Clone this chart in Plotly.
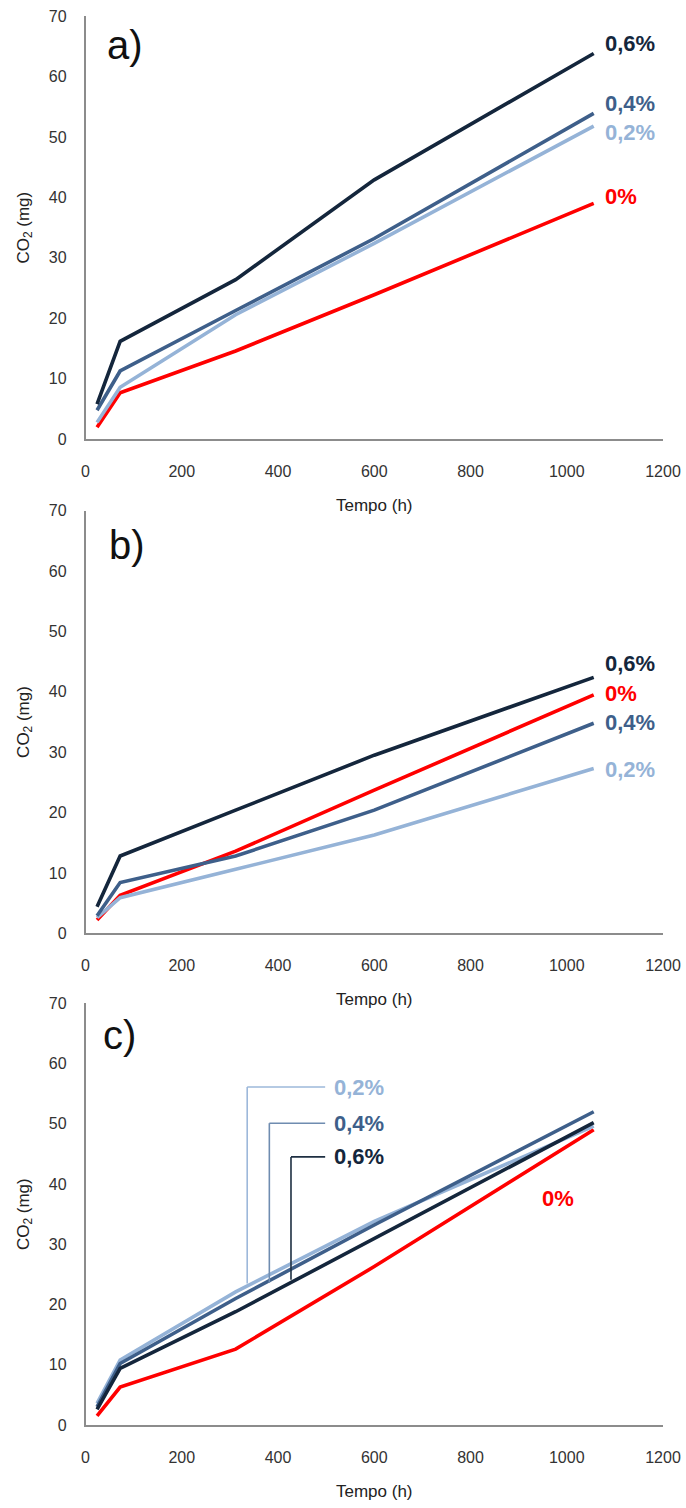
import plotly.graph_objects as go
from plotly.subplots import make_subplots

# ---------------- data ----------------
tempo_h = [24, 72, 312, 600, 1056]

# panel a)
a_0 = [2.0, 7.7, 14.6, 23.9, 39.0]
a_02 = [2.8, 8.6, 20.6, 32.4, 51.8]
a_04 = [4.8, 11.3, 21.3, 33.2, 53.9]
a_06 = [5.8, 16.2, 26.4, 42.9, 63.8]

# panel b)
b_0 = [2.2, 6.3, 13.6, 23.7, 39.5]
b_02 = [2.6, 5.9, 10.6, 16.3, 27.3]
b_04 = [2.9, 8.4, 12.8, 20.4, 34.8]
b_06 = [4.4, 12.8, 20.4, 29.5, 42.4]

# panel c)
c_0 = [1.5, 6.3, 12.6, 26.3, 49.0]
c_02 = [3.6, 10.8, 22.1, 33.8, 49.6]
c_04 = [3.0, 10.2, 21.0, 33.2, 52.0]
c_06 = [2.6, 9.4, 18.8, 31.0, 50.2]

series_names = ["0%", "0,2%", "0,4%", "0,6%"]
panel_names = ["a)", "b)", "c)"]
x_ticks = [0, 200, 400, 600, 800, 1000, 1200]
y_ticks = [0, 10, 20, 30, 40, 50, 60, 70]

# ---------------- style ----------------
colors = {"0%": "#FF0000", "0,2%": "#95B3D7", "0,4%": "#3E5F8A", "0,6%": "#14263C"}
leader_colors = {"0,2%": "#9DB8DA", "0,4%": "#6F8CB0", "0,6%": "#1E2F42"}
TICK_FONT = dict(family="Liberation Sans, Arial, sans-serif", size=16, color="#333333")
TITLE_FONT = dict(family="Liberation Sans, Arial, sans-serif", size=17, color="#222222")
LABEL_FAMILY = "Liberation Sans, Arial, sans-serif"
AXIS_COLOR = "#8C8C8C"

fig = make_subplots(rows=3, cols=1)

panels = [
    {"0%": a_0, "0,2%": a_02, "0,4%": a_04, "0,6%": a_06},
    {"0%": b_0, "0,2%": b_02, "0,4%": b_04, "0,6%": b_06},
    {"0%": c_0, "0,2%": c_02, "0,4%": c_04, "0,6%": c_06},
]
draw_order = ["0%", "0,2%", "0,4%", "0,6%"]

for i, p in enumerate(panels):
    for name in draw_order:
        fig.add_trace(
            go.Scatter(
                x=tempo_h, y=p[name], mode="lines", name=name,
                line=dict(color=colors[name], width=3.6),
                showlegend=False, hoverinfo="x+y+name",
            ),
            row=i + 1, col=1,
        )

# domains (paper fractions) for the three panels
x_dom = [85.5 / 686, 663 / 686]
y_doms = [
    [1 - 439.3 / 1508, 1 - 16 / 1508],
    [1 - 933.3 / 1508, 1 - 510.7 / 1508],
    [1 - 1425 / 1508, 1 - 1003.3 / 1508],
]

for i in range(3):
    fig.update_xaxes(
        row=i + 1, col=1, domain=x_dom, range=[0, 1200], tickvals=x_ticks,
        showgrid=False, zeroline=False, showline=True, linecolor=AXIS_COLOR,
        linewidth=1.5, ticks="", ticklabelstandoff=17, tickfont=TICK_FONT,
        title=dict(text="Tempo (h)", font=TITLE_FONT, standoff=20),
        automargin=False, fixedrange=True,
    )
    fig.update_yaxes(
        row=i + 1, col=1, domain=y_doms[i], range=[0, 70], tickvals=y_ticks,
        showgrid=False, zeroline=False, showline=True, linecolor=AXIS_COLOR,
        linewidth=1.5, ticks="", ticklabelstandoff=14, tickfont=TICK_FONT,
        title=dict(text="CO<sub>2</sub> (mg)", font=TITLE_FONT, standoff=15),
        automargin=False, fixedrange=True,
    )

annotations = []
# panel letters
letter_pos = [(40, 65.2), (45, 64.3), (32, 64.7)]
for i, (lx, ly) in enumerate(letter_pos):
    ax = "" if i == 0 else str(i + 1)
    annotations.append(dict(
        x=lx, y=ly, xref="x" + ax, yref="y" + ax, text=panel_names[i],
        showarrow=False, xanchor="left", yanchor="middle",
        font=dict(family=LABEL_FAMILY, size=40, color="#111111"),
    ))

# series end labels for panels a) and b)
label_y = [
    {"0,6%": 65.4, "0,4%": 55.6, "0,2%": 50.7, "0%": 40.1},
    {"0,6%": 44.7, "0%": 39.8, "0,4%": 34.9, "0,2%": 27.1},
]
for i in range(2):
    ax = "" if i == 0 else str(i + 1)
    for name, ly in label_y[i].items():
        annotations.append(dict(
            x=1075, y=ly, xref="x" + ax, yref="y" + ax, text="<b>" + name + "</b>",
            showarrow=False, xanchor="left", yanchor="middle",
            font=dict(family=LABEL_FAMILY, size=22, color=colors[name]),
        ))

# panel c) labels with leader lines
c_labels = {"0,2%": (56.1, 336, 23.5), "0,4%": (50.1, 382, 23.6), "0,6%": (44.5, 427, 24.1)}
shapes = []
for name, (ly, vx, vy) in c_labels.items():
    annotations.append(dict(
        x=512, y=ly, xref="x3", yref="y3", text="<b>" + name + "</b>",
        showarrow=False, xanchor="left", yanchor="middle",
        font=dict(family=LABEL_FAMILY, size=22, color=colors[name]),
    ))
    shapes.append(dict(type="line", xref="x3", yref="y3", x0=vx, y0=vy, x1=vx, y1=ly,
                       line=dict(color=leader_colors[name], width=1.6)))
    shapes.append(dict(type="line", xref="x3", yref="y3", x0=vx, y0=ly, x1=498, y1=ly,
                       line=dict(color=leader_colors[name], width=1.6)))
annotations.append(dict(
    x=982, y=37.6, xref="x3", yref="y3", text="<b>0%</b>",
    showarrow=False, xanchor="center", yanchor="middle",
    font=dict(family=LABEL_FAMILY, size=22, color=colors["0%"]),
))

fig.update_layout(
    width=686, height=1508,
    margin=dict(l=0, r=0, t=0, b=0),
    paper_bgcolor="white", plot_bgcolor="white",
    annotations=annotations, shapes=shapes,
    showlegend=False,
)

fig.write_html(
    "out.html",
    config={"displayModeBar": False},
    post_script="document.body.style.margin='0';document.body.style.overflow='hidden';",
)
